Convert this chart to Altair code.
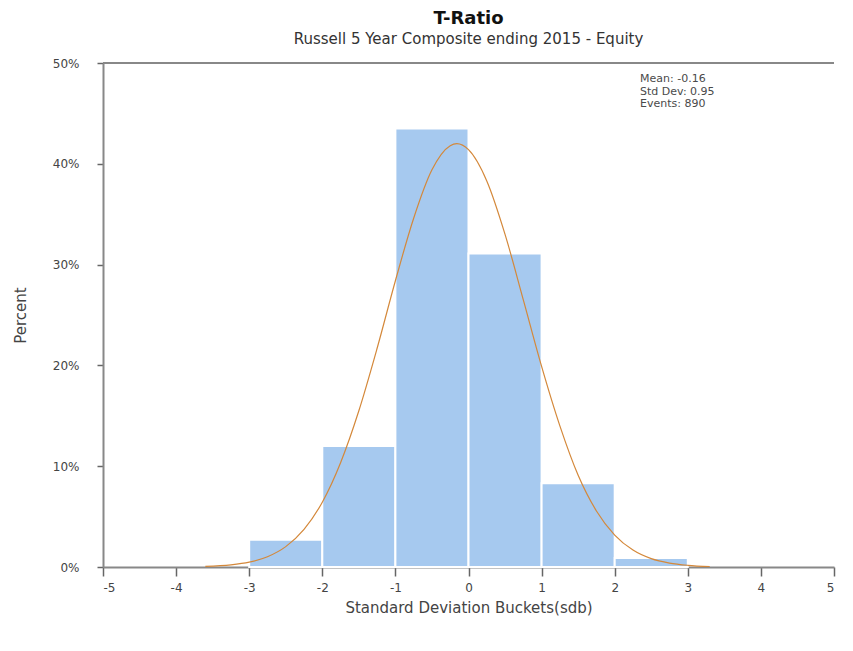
import altair as alt
import pandas as pd

# Histogram buckets (standard deviation buckets) and percentages
bin_start = [-3, -2, -1, 0, 1, 2]
bin_end = [-2, -1, 0, 1, 2, 3]
bin_pct = [0.027, 0.120, 0.435, 0.311, 0.083, 0.009]

# Fitted curve
curve_x = [-3.6, -3.25, -3.0, -2.75, -2.5, -2.25, -2.0, -1.75, -1.5, -1.25, -1.0,
           -0.75, -0.5, -0.25, -0.16, 0.0, 0.25, 0.5, 0.75, 1.0, 1.25, 1.5, 1.75,
           2.0, 2.25, 2.5, 2.75, 3.0, 3.3]
curve_y = [0.0006, 0.0021, 0.0048, 0.0102, 0.0202, 0.0373, 0.0643, 0.1035, 0.155,
           0.217, 0.284, 0.346, 0.394, 0.418, 0.420, 0.414, 0.383, 0.330, 0.265,
           0.199, 0.140, 0.091, 0.0556, 0.0317, 0.0168, 0.0083, 0.0039, 0.0017, 0.0005]

x_ticks = [-5, -4, -3, -2, -1, 0, 1, 2, 3, 4, 5]
y_ticks = [0, 0.1, 0.2, 0.3, 0.4, 0.5]
stats_text = ["Mean: -0.16", "Std Dev: 0.95", "Events:   890"]

W, H = 731, 504
FONT = "DejaVu Sans"

bars_df = pd.DataFrame({"start": bin_start, "end": bin_end, "pct": bin_pct})
curve_df = pd.DataFrame({"x": curve_x, "y": curve_y})

x_scale = alt.Scale(domain=[-5, 5], nice=False, zero=False)
y_scale = alt.Scale(domain=[0, 0.5], nice=False)

x_axis = alt.Axis(values=x_ticks, labelExpr="toString(datum.value)",
                  title="Standard Deviation Buckets(sdb)",
                  grid=False, tickSize=9, labelPadding=6, titlePadding=7)
y_axis = alt.Axis(values=y_ticks, format=".0%", title="Percent", grid=False,
                  tickSize=6, labelPadding=18, titlePadding=24)

bars = alt.Chart(bars_df).mark_rect(color="#a6c9ef", stroke="white", strokeWidth=2).encode(
    x=alt.X("start:Q", scale=x_scale, axis=x_axis),
    x2="end:Q",
    y=alt.Y("pct:Q", scale=y_scale, axis=y_axis),
    y2=alt.datum(0),
)

curve = alt.Chart(curve_df).mark_line(color="#d4883a", strokeWidth=1.2, interpolate="monotone").encode(
    x=alt.X("x:Q", scale=x_scale),
    y=alt.Y("y:Q", scale=y_scale),
)

top_rule = alt.Chart(pd.DataFrame({"a": [0]})).mark_rule(color="#888888", strokeWidth=2).encode(
    x=alt.value(0), x2=alt.value(W), y=alt.value(0)
)

stats = alt.Chart(pd.DataFrame({"a": [0]})).mark_text(
    text=stats_text, align="left", baseline="middle", fontSize=11, lineHeight=12.5,
    font=FONT, color="#4a4a4a"
).encode(x=alt.value(537), y=alt.value(16))

chart = alt.layer(bars, curve, top_rule, stats).properties(
    width=W, height=H,
    padding={"left": 5, "top": 2, "right": 2, "bottom": 5},
    title=alt.TitleParams(
        "T-Ratio",
        subtitle="Russell 5 Year Composite ending 2015 - Equity",
        fontSize=18, subtitleFontSize=15, anchor="middle", font=FONT,
        subtitleFont=FONT, fontWeight="bold", color="#111111",
        subtitleColor="#333333", subtitlePadding=4, offset=10,
    ),
).configure_view(stroke=None).configure_axis(
    domainColor="#888888", domainWidth=2, tickColor="#666666", tickWidth=1.5,
    labelFont=FONT, titleFont=FONT, labelFontSize=12, titleFontSize=15,
    labelColor="#444444", titleColor="#444444", titleFontWeight="normal",
)

chart.save("out.html", embed_options={"renderer": "svg", "actions": False})
